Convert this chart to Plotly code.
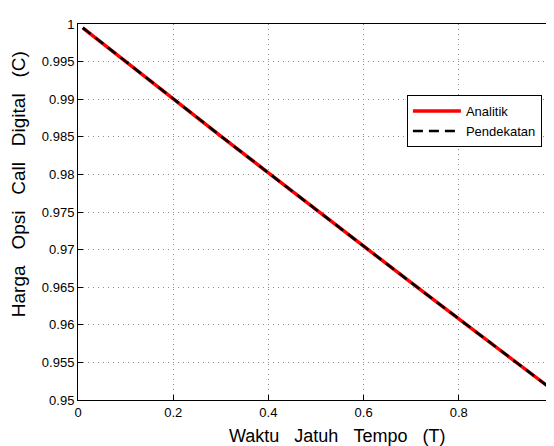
import plotly.graph_objects as go

T = [0.01, 0.1, 0.2, 0.3, 0.4, 0.5, 0.6, 0.7, 0.8, 0.9, 1.0]
C_analitik = [0.9995, 0.9950, 0.9900, 0.9851, 0.9802, 0.9753, 0.9704, 0.9656, 0.9608, 0.9560, 0.9512]
C_pendekatan = [0.9995, 0.9950, 0.9900, 0.9851, 0.9802, 0.9753, 0.9704, 0.9656, 0.9608, 0.9560, 0.9512]

x_ticks = [0, 0.2, 0.4, 0.6, 0.8, 1]
x_ticktext = ["0", "0.2", "0.4", "0.6", "0.8", "1"]
y_ticks = [0.95, 0.955, 0.96, 0.965, 0.97, 0.975, 0.98, 0.985, 0.99, 0.995, 1]
y_ticktext = ["0.95", "0.955", "0.96", "0.965", "0.97", "0.975", "0.98", "0.985", "0.99", "0.995", "1"]

x_title = "Waktu Jatuh Tempo (T)"
y_title = "Harga Opsi Call Digital (C)"

FONT = "Liberation Sans, Arial, Helvetica, sans-serif"


def spaced(s, n):
    return ("\u00a0" * n).join(s.split(" "))


fig = go.Figure()
fig.add_trace(go.Scatter(x=T, y=C_analitik, mode="lines", name="Analitik",
                         line=dict(color="#ff0000", width=3.5)))
fig.add_trace(go.Scatter(x=T, y=C_pendekatan, mode="lines", name="Pendekatan",
                         line=dict(color="#000000", width=2.5, dash="10px,6px")))

axis_common = dict(showline=True, linecolor="black", linewidth=1, mirror=True,
                   ticks="inside", ticklen=5, tickcolor="black",
                   showgrid=True, gridcolor="#8a8a8a", griddash="1px,4px", gridwidth=1,
                   zeroline=False, automargin=False,
                   tickfont=dict(family=FONT, size=13, color="black"))

fig.update_layout(
    width=546, height=438,
    margin=dict(l=70, r=0, t=16, b=46),
    paper_bgcolor="white", plot_bgcolor="white",
    font=dict(family=FONT, color="black"),
    xaxis=dict(range=[0, 1], tickvals=x_ticks, ticktext=x_ticktext, **axis_common),
    yaxis=dict(range=[0.95, 1], tickvals=y_ticks, ticktext=y_ticktext, **axis_common),
    showlegend=True,
    legend=dict(x=0.691, y=0.811, xanchor="left", yanchor="top",
                bgcolor="white", bordercolor="black", borderwidth=1,
                font=dict(family=FONT, size=13, color="black"),
                tracegroupgap=0, itemwidth=48),
    annotations=[
        dict(text=spaced(x_title, 3), xref="paper", yref="paper", x=0.544, y=0,
             xanchor="center", yanchor="middle", yshift=-36, showarrow=False,
             font=dict(family=FONT, size=18, color="black")),
        dict(text=spaced(y_title, 3), xref="paper", yref="paper", x=-0.126, y=0.574,
             xanchor="center", yanchor="middle", textangle=-90, showarrow=False,
             font=dict(family=FONT, size=19, color="black")),
    ],
)

fig.write_html("out.html")
